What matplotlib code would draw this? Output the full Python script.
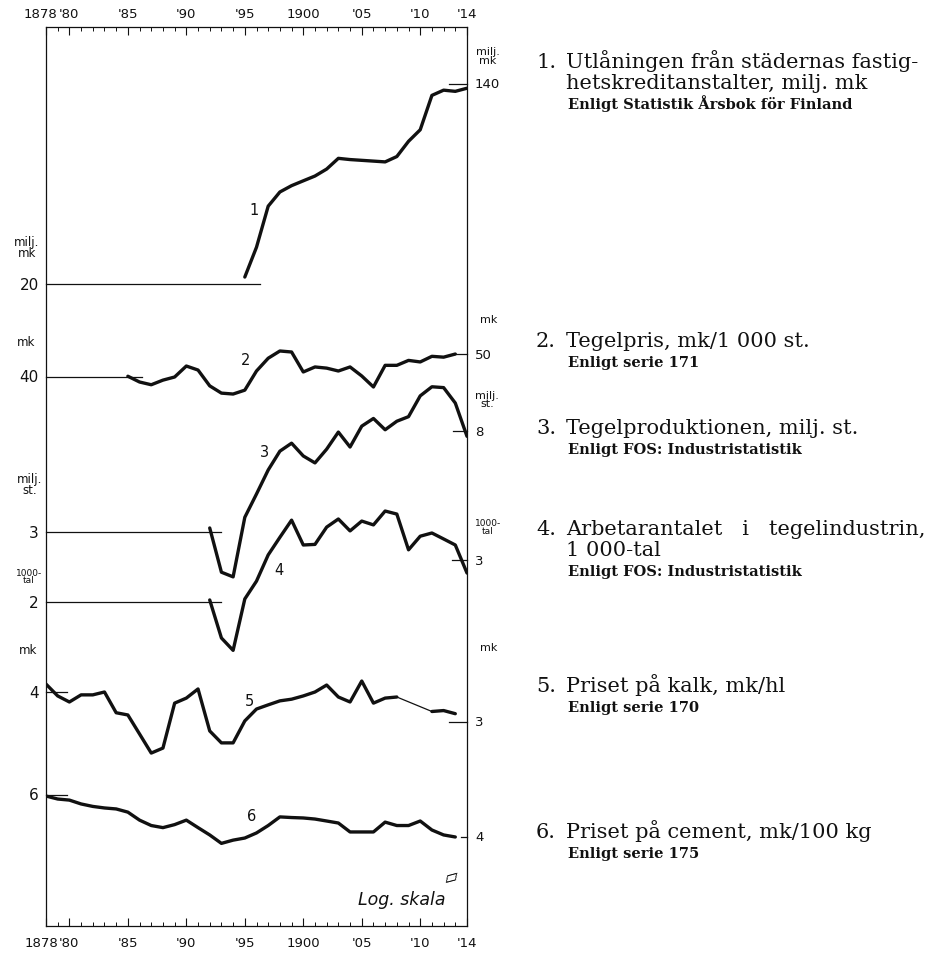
import matplotlib
matplotlib.use("Agg")
import matplotlib.pyplot as plt
import matplotlib.transforms as mtransforms
import numpy as np

# ---------------- data ----------------
years_1 = list(range(1895, 1915))
lending = [21.4, 28.6, 42.6, 48.9, 52.0, 54.5, 57.1, 61.1, 67.8, 67.0,
           66.5, 66.0, 65.5, 69.0, 80.0, 89.5, 125.0, 131.5, 130.0, 134.0]

years_2 = list(range(1885, 1914))
brick_price = [40.3, 38.1, 37.1, 38.8, 40.0, 44.5, 42.8, 36.7, 34.2, 33.9,
               35.2, 42.4, 48.0, 51.5, 51.0, 42.0, 44.1, 43.6, 42.4, 44.1,
               40.4, 36.3, 44.8, 44.8, 47.0, 46.3, 48.9, 48.5, 50.0]

years_3 = list(range(1892, 1915))
brick_output = [3.12, 2.03, 1.94, 3.46, 4.34, 5.48, 6.58, 7.11, 6.28, 5.87,
                6.71, 7.92, 6.85, 8.39, 9.04, 8.10, 8.80, 9.20, 11.26, 12.3,
                12.2, 10.5, 7.6]

years_4 = list(range(1892, 1915))
brick_workers = [2.04, 1.41, 1.25, 2.06, 2.45, 3.16, 3.75, 4.43, 3.48, 3.50,
                 4.14, 4.48, 3.99, 4.39, 4.23, 4.84, 4.70, 3.32, 3.79, 3.91,
                 3.69, 3.48, 2.65]

years_5 = list(range(1878, 1914))
lime_price = [4.32, 3.85, 3.63, 3.89, 3.89, 4.00, 3.27, 3.20, 2.66, 2.21,
              2.32, 3.59, 3.77, 4.12, 2.74, 2.44, 2.44, 3.02, 3.39, 3.53,
              3.67, 3.73, 3.85, 4.00, 4.28, 3.81, 3.63, 4.45, 3.59, 3.77,
              3.81, None, None, 3.31, 3.34, 3.24]

years_6 = list(range(1878, 1914))
cement_price = [5.94, 5.77, 5.71, 5.50, 5.37, 5.29, 5.24, 5.08, 4.70, 4.46,
                4.37, 4.50, 4.70, 4.37, 4.07, 3.75, 3.87, 3.95, 4.15, 4.46,
                4.85, 4.82, 4.80, 4.75, 4.66, 4.57, 4.19, 4.19, 4.19, 4.61,
                4.46, 4.46, 4.66, 4.27, 4.07, 3.99]

# reference values printed on the left and right scales
left_values = [20, 40, 3, 2, 4, 6]
right_values = [140, 50, 8, 3, 3, 4]
left_units = ["milj.\nmk", "mk", "milj.\nst.", "1000-\ntal", "mk", None]
right_units = ["milj.\nmk", "mk", "milj.\nst.", "1000-\ntal", "mk", None]
# extent (years) of the thin guide lines at each scale value
left_guides = [(1878, 1896.3), (1878, 1886.2), (1878, 1893.0),
               (1878, 1893.0), (1878, 1879.8), (1878, 1879.8)]
right_guides = [(1912.5, 1914), (1913.0, 1914), (1912.8, 1914),
                (1912.7, 1914), (1912.5, 1914), (1913.5, 1914)]
# curve numbers, placed at (year, value)
curve_names = ["1", "2", "3", "4", "5", "6"]
curve_label_pos = [(1895.8, 41.4), (1895.1, 47.2), (1896.7, 6.54),
                   (1897.9, 2.75), (1895.4, 3.70), (1895.6, 4.90)]

year_ticks = [1878, 1880, 1885, 1890, 1895, 1900, 1905, 1910, 1914]
year_labels = ["1878", "'80", "'85", "'90", "'95", "1900", "'05", "'10", "'14"]

notes = [
    ("1.", ["Utlåningen från städernas fastig-",
            "hetskreditanstalter, milj. mk"],
     "Enligt Statistik Årsbok för Finland"),
    ("2.", ["Tegelpris, mk/1 000 st."], "Enligt serie 171"),
    ("3.", ["Tegelproduktionen, milj. st."], "Enligt FOS: Industristatistik"),
    ("4.", ["Arbetarantalet   i   tegelindustrin,", "1 000-tal"],
     "Enligt FOS: Industristatistik"),
    ("5.", ["Priset på kalk, mk/hl"], "Enligt serie 170"),
    ("6.", ["Priset på cement, mk/100 kg"], "Enligt serie 175"),
]

# ---------------- layout ----------------
W, H = 941, 954
L, R, T, B = 46, 467, 28, 927          # plot frame in pixels
DECADE_PX = 237                        # height of one log decade
anchor_rows = [285, 378, 533, 603, 693, 796]   # rows of the left scale values
left_unit_off = [(-19, 37), (-20, 35), (-16, 48), (-17, 26), (-18, 42), None]
right_unit_off = [(21, 28), (22, 35), (20, 32), (21, 34), (22, 75), None]
note_rows = [68, 347, 434, 535, 692, 838]

INK = "#111111"
SANS = "DejaVu Sans"
SERIF = "DejaVu Serif"
TICK_FS = 9.5

fig = plt.figure(figsize=(W / 100, H / 100), dpi=100)
fig.patch.set_facecolor("white")
rect = [L / W, 1 - B / H, (R - L) / W, (B - T) / H]

ax = fig.add_axes(rect)
ax.set_xlim(1878, 1914)
ax.set_ylim(0, 1)
ax.set_yticks([])
for s in ax.spines.values():
    s.set_linewidth(0.9)
    s.set_color(INK)

# year ruler, bottom (the first year is written separately, nudged left)
tick_text = [""] + year_labels[1:]
ax.set_xticks(year_ticks)
ax.set_xticklabels(tick_text, fontsize=TICK_FS, family=SANS, color=INK)
ax.set_xticks(range(1878, 1915), minor=True)
ax.tick_params(axis="x", which="major", direction="in", length=6, width=0.8,
               pad=7, top=True, bottom=True, color=INK)
ax.tick_params(axis="x", which="minor", direction="in", length=3, width=0.7,
               top=True, bottom=True, color=INK)

# year ruler labels, top
top = ax.secondary_xaxis("top")
top.set_xticks(year_ticks)
top.set_xticklabels(tick_text, fontsize=TICK_FS, family=SANS, color=INK)
top.tick_params(axis="x", which="both", direction="in", length=0, pad=5)
top.spines["top"].set_visible(False)

xblend = mtransforms.blended_transform_factory(ax.transData, ax.transAxes)
ax.text(year_ticks[0], 1, year_labels[0], ha="center", va="bottom",
        fontsize=TICK_FS, family=SANS, color=INK, clip_on=False,
        transform=mtransforms.offset_copy(xblend, fig=fig, x=-6, y=6.5,
                                          units="dots"))
ax.text(year_ticks[0], 0, year_labels[0], ha="center", va="top",
        fontsize=TICK_FS, family=SANS, color=INK, clip_on=False,
        transform=mtransforms.offset_copy(xblend, fig=fig, x=-5, y=-10,
                                          units="dots"))

series = [
    (years_1, lending),
    (years_2, brick_price),
    (years_3, brick_output),
    (years_4, brick_workers),
    (years_5, lime_price),
    (years_6, cement_price),
]

for i, (yrs, vals) in enumerate(series):
    anchor = left_values[i]
    row = anchor_rows[i]
    sax = fig.add_axes(rect, sharex=ax)
    sax.set_yscale("log")
    sax.set_ylim(anchor * 10 ** (-(B - row) / DECADE_PX),
                 anchor * 10 ** ((row - T) / DECADE_PX))
    sax.axis("off")

    x = np.array(yrs, float)
    y = np.array([np.nan if v is None else v for v in vals], float)
    sax.plot(x, y, color=INK, lw=2.4, solid_joinstyle="round",
             solid_capstyle="round")
    # thin bridge across missing years
    good = np.flatnonzero(~np.isnan(y))
    for a, b in zip(good[:-1], good[1:]):
        if b - a > 1:
            sax.plot(x[[a, b]], y[[a, b]], color=INK, lw=0.9)

    # guide lines at the scale values
    lv, rv = left_values[i], right_values[i]
    sax.plot(left_guides[i], [lv, lv], color=INK, lw=0.9, clip_on=False)
    sax.plot(right_guides[i], [rv, rv], color=INK, lw=0.9, clip_on=False)

    blend = mtransforms.blended_transform_factory(sax.transAxes, sax.transData)
    sax.text(0, lv, str(lv), ha="right", va="center", fontsize=11,
             family=SANS, color=INK, clip_on=False,
             transform=mtransforms.offset_copy(blend, fig=fig, x=-7, y=0,
                                               units="dots"))
    sax.text(1, rv, str(rv), ha="left", va="center", fontsize=9.5,
             family=SANS, color=INK, clip_on=False,
             transform=mtransforms.offset_copy(blend, fig=fig, x=8, y=0,
                                               units="dots"))

    for unit, off, side, val, fs in (
            (left_units[i], left_unit_off[i], 0, lv, 8.5),
            (right_units[i], right_unit_off[i], 1, rv, 8)):
        if unit is None:
            continue
        if unit.startswith("1000"):
            fs = 6.5
        sax.text(side, val, unit, ha="center", va="center",
                 multialignment="center", linespacing=0.85,
                 fontsize=fs, family=SANS, color=INK, clip_on=False,
                 transform=mtransforms.offset_copy(blend, fig=fig, x=off[0],
                                                   y=off[1], units="dots"))

    cx, cy = curve_label_pos[i]
    sax.text(cx, cy, curve_names[i], ha="center", va="center", fontsize=10.5,
             family=SANS, color=INK)

# scale note
ax.text(0.948, 0.030, "Log. skala", transform=ax.transAxes, ha="right",
        va="center", fontsize=12.5, family=SANS, style="italic", color=INK)
ax.text(0.963, 0.055, "\u25b1", transform=ax.transAxes, ha="center",
        va="center", fontsize=13, family=SANS, rotation=15, color=INK)

# captions on the right
for (num, lines, source), row in zip(notes, note_rows):
    fig.text(536 / W, 1 - row / H, num, ha="left", va="baseline",
             fontsize=15, family=SERIF, color=INK)
    for k, line in enumerate(lines):
        fig.text(566 / W, 1 - (row + 21 * k) / H, line, ha="left",
                 va="baseline", fontsize=15, family=SERIF, color=INK)
    srow = row + 21 * (len(lines) - 1) + 20
    fig.text(568 / W, 1 - srow / H, source, ha="left", va="baseline",
             fontsize=10.5, family=SERIF, weight="bold", color=INK)

fig.savefig("out.png", dpi=100, facecolor="white")
